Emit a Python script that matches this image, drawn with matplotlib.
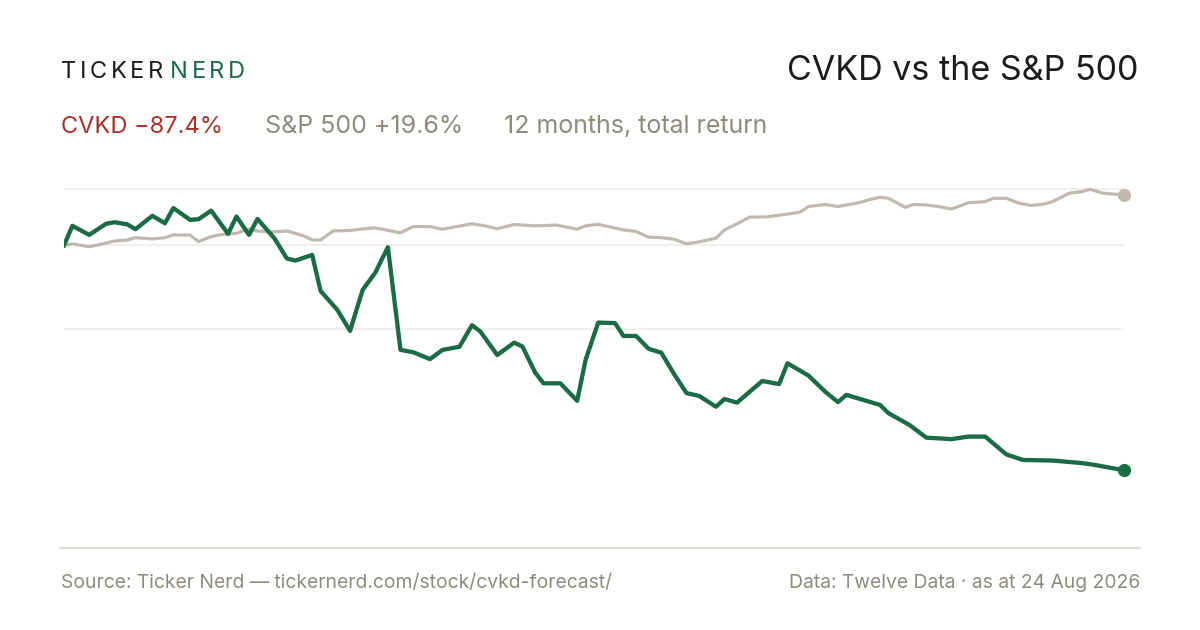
import matplotlib
matplotlib.use("Agg")
import matplotlib.pyplot as plt
from matplotlib.lines import Line2D

# trading day index (0..252) and total return in %
cvkd_days = [0, 2, 6, 10, 12, 15, 17, 21, 24, 26, 30, 32, 35, 39, 41, 44, 46, 50,
             53, 55, 59, 61, 65, 68, 71, 74, 77, 80, 83, 87, 90, 94, 97, 99, 103,
             107, 109, 112, 114, 118, 122, 124, 127, 131, 133, 136, 139, 142, 145,
             148, 151, 155, 157, 160, 166, 170, 172, 177, 181, 184, 186, 194, 196,
             201, 205, 211, 215, 219, 224, 228, 235, 242, 245, 252]
cvkd_ret = [0.0, 7.6, 4.1, 8.4, 9.0, 8.2, 6.3, 11.5, 8.6, 14.5, 9.9, 10.2, 13.5,
            4.5, 11.2, 4.1, 10.3, 2.8, -5.1, -5.9, -3.7, -17.7, -25.1, -33.2,
            -17.3, -10.6, -0.7, -40.6, -41.5, -44.2, -40.6, -39.4, -31.0, -33.5,
            -42.6, -37.8, -39.3, -49.4, -53.6, -53.6, -60.4, -44.5, -30.0, -30.2,
            -35.2, -35.2, -40.2, -41.7, -49.9, -57.4, -58.5, -62.7, -59.7, -61.1,
            -52.7, -53.9, -45.8, -50.6, -56.9, -60.9, -58.1, -62.0, -65.2, -69.8,
            -74.7, -75.3, -74.3, -74.3, -81.2, -83.4, -83.6, -84.6, -85.3, -87.4]

spx_days = [0, 2, 6, 9, 12, 15, 17, 21, 24, 26, 30, 32, 35, 37, 41, 44, 46, 49,
            53, 57, 59, 61, 64, 68, 71, 74, 80, 83, 87, 90, 94, 97, 100, 103, 107,
            112, 117, 122, 124, 127, 133, 136, 139, 142, 145, 148, 151, 155, 157,
            160, 163, 167, 170, 175, 177, 181, 184, 189, 192, 194, 196, 200, 202,
            205, 208, 211, 215, 219, 221, 224, 227, 230, 233, 235, 239, 242, 244,
            247, 252]
spx_ret = [0.0, 0.6, -0.5, 0.5, 1.7, 2.1, 3.0, 2.5, 3.0, 4.1, 4.0, 1.5, 3.4, 4.1,
           4.7, 6.4, 5.6, 5.2, 5.6, 3.7, 2.1, 2.1, 5.6, 5.8, 6.4, 6.8, 4.9, 7.3,
           7.3, 6.3, 7.5, 8.4, 7.6, 6.5, 8.1, 7.6, 7.9, 6.3, 7.6, 8.2, 6.0, 5.4,
           3.2, 3.0, 2.4, 0.6, 1.4, 2.8, 6.0, 8.4, 11.0, 11.1, 11.7, 12.9, 15.1,
           15.9, 15.1, 16.6, 18.0, 18.7, 18.3, 14.8, 15.9, 15.7, 15.1, 14.1, 16.6,
           17.0, 18.3, 18.3, 16.4, 15.5, 16.1, 17.0, 20.3, 20.9, 21.8, 20.3, 19.6]

grid_levels = [22.0, 0.0, -32.5]

GREEN = "#1b6b45"
SAND = "#c0b9ae"
RED = "#a83228"
MUTED = "#8e8b7c"
INK = "#1c1c1c"

plt.rcParams["font.family"] = ["Inter", "DejaVu Sans"]

W, H = 1200, 630
fig = plt.figure(figsize=(W / 100, H / 100), dpi=100)
fig.patch.set_facecolor("white")


def fx(x):
    return x / W


def fy(y):
    return 1 - y / H


ax = fig.add_axes([fx(64), fy(548), fx(1124) - fx(64), fy(170) - fy(548)])
ax.set_xlim(0, 252)
ax.set_ylim(-117.6, 29.3)
ax.axis("off")

for g in grid_levels:
    ax.axhline(g, color="#eeece6", lw=1.2, zorder=1)

ax.plot(spx_days, spx_ret, color=SAND, lw=2.3, solid_joinstyle="round", zorder=2)
ax.plot(cvkd_days, cvkd_ret, color=GREEN, lw=3.1, solid_joinstyle="round", zorder=3)
ax.plot(spx_days[-1], spx_ret[-1], "o", color=SAND, ms=8.5, zorder=4, clip_on=False)
ax.plot(cvkd_days[-1], cvkd_ret[-1], "o", color=GREEN, ms=8.5, zorder=4, clip_on=False)

# bottom rule
fig.add_artist(Line2D([fx(60), fx(1140)], [fy(548), fy(548)], color="#dedbd2", lw=1.5))

# logo with letter spacing
renderer = fig.canvas.get_renderer()
x = 61
for word, col in [("TICKER", INK), ("NERD", GREEN)]:
    for ch in word:
        t = fig.text(fx(x), fy(78), ch, fontsize=17, color=col, va="baseline")
        bb = t.get_window_extent(renderer)
        x += bb.width + 3.6
    x += 3

fig.text(fx(1138), fy(80), "CVKD vs the S&P 500", fontsize=24.5, color=INK,
         ha="right", va="baseline")

fig.text(fx(61), fy(133), "CVKD \u221287.4%", fontsize=17, color=RED, va="baseline")
fig.text(fx(265), fy(133), "S&P 500 +19.6%", fontsize=18, color=MUTED, va="baseline")
fig.text(fx(504), fy(133), "12 months, total return", fontsize=18, color=MUTED,
         va="baseline")

fig.text(fx(61), fy(588), "Source: Ticker Nerd \u2014 tickernerd.com/stock/cvkd-forecast/",
         fontsize=13.9, color=MUTED, va="baseline")
fig.text(fx(1140), fy(588), "Data: Twelve Data \u00b7 as at 24 Aug 2026",
         fontsize=13.9, color=MUTED, ha="right", va="baseline")

fig.savefig("out.png", dpi=100, facecolor="white")
